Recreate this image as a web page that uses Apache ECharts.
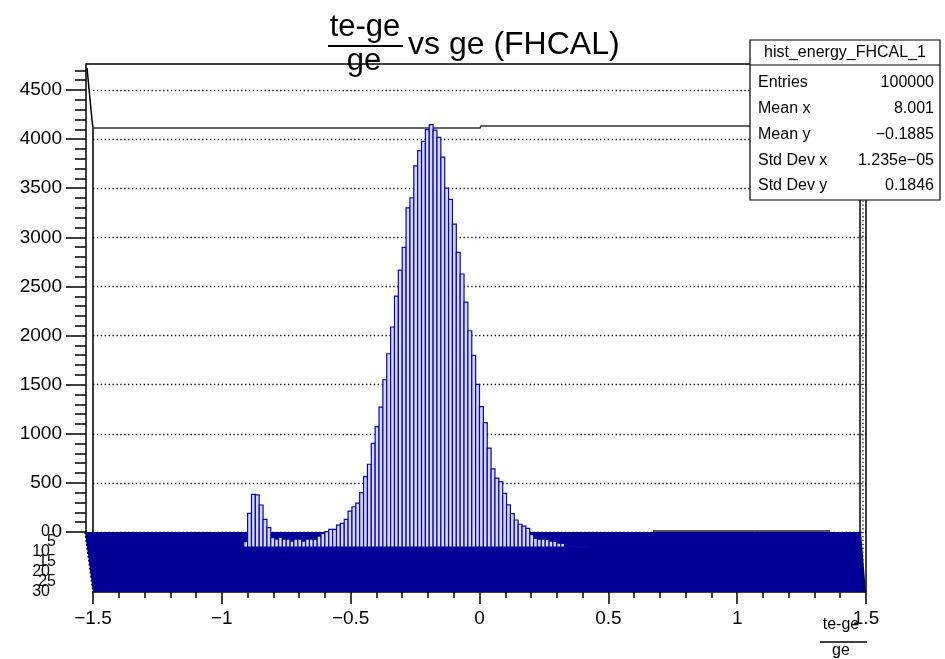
<!DOCTYPE html>
<html><head><meta charset="utf-8">
<script src="https://cdn.jsdelivr.net/npm/echarts/dist/echarts.min.js"></script>
<style>html,body{margin:0;padding:0;background:#fff}#c{width:945px;height:659px}</style>
</head><body><div id="c"></div>
<script>
// ---- data (histogram of (te-ge)/ge, bin width 0.015) ----
const binLow = [-0.915,-0.900,-0.885,-0.870,-0.855,-0.840,-0.825,-0.810,-0.795,-0.780,-0.765,-0.750,-0.735,-0.720,-0.705,-0.690,-0.675,-0.660,-0.645,-0.630,-0.615,-0.600,-0.585,-0.570,-0.555,-0.540,-0.525,-0.510,-0.495,-0.480,-0.465,-0.450,-0.435,-0.420,-0.405,-0.390,-0.375,-0.360,-0.345,-0.330,-0.315,-0.300,-0.285,-0.270,-0.255,-0.240,-0.225,-0.210,-0.195,-0.180,-0.165,-0.150,-0.135,-0.120,-0.105,-0.090,-0.075,-0.060,-0.045,-0.030,-0.015,0.000,0.015,0.030,0.045,0.060,0.075,0.090,0.105,0.120,0.135,0.150,0.165,0.180,0.195,0.210,0.225,0.240,0.255,0.270,0.285,0.300,0.315,0.330,0.345,0.360,0.375,0.390,0.405];
const counts = [54,343,536,530,428,282,197,95,81,99,81,81,61,81,81,61,81,81,81,112,139,156,180,180,224,241,282,366,410,448,553,716,843,1056,1225,1425,1703,1968,2240,2555,2820,3051,3454,3556,3880,4035,4130,4250,4300,4245,4171,3970,3655,3540,3287,3000,2780,2494,2202,1951,1656,1430,1266,1008,796,702,665,547,430,340,275,232,212,190,125,90,81,80,78,61,58,40,36,12,10,9,8,8,6];
const BIN_W = 0.015;
const xRange = [-1.5, 1.5];
const yMax = 4765;
const yMajorTicks = [0,500,1000,1500,2000,2500,3000,3500,4000,4500];
const yMinorTicks = [100,200,300,400,600,700,800,900,1100,1200,1300,1400,1600,1700,1800,1900,2100,2200,2300,2400,2600,2700,2800,2900,3100,3200,3300,3400,3600,3700,3800,3900,4100,4200,4300,4400,4600,4700];
const depthRange = [0, 30];
const depthTicksA = [0,10,20,30];
const depthTicksB = [5,15,25];
const statLabels = ['Entries','Mean x','Mean y','Std Dev x','Std Dev y'];
const statValues = ['100000','8.001','\u22120.1885','1.235e\u221205','0.1846'];
const histName = 'hist_energy_FHCAL_1';

// ---- styling ----
const FONT = '"Liberation Sans", Arial, Helvetica, sans-serif';
const SHIFT = 153;      // lego projection offset (axis units)
const NAVY = '#000096';

const chart = echarts.init(document.getElementById('c'), null, {renderer:'canvas'});

const statRows = statLabels.map((l,i)=>[
  {type:'text', x:758, y:83+i*25.7, z:101, style:{text:l, font:'16px '+FONT, fill:'#000', textAlign:'left', textVerticalAlign:'middle', align:'left', verticalAlign:'middle'}},
  {type:'text', x:934, y:83+i*25.7, z:101, style:{text:statValues[i], font:'16px '+FONT, fill:'#000', textAlign:'right', textVerticalAlign:'middle', align:'right', verticalAlign:'middle'}}
]).flat();

function txt(s, x, y, size, align){
  return {type:'text', x:x, y:y, z:50, style:{text:s, font:size+'px '+FONT, fill:'#000', textAlign:align||'center', textVerticalAlign:'middle', align:align||'center', verticalAlign:'middle'}};
}
function line(pts, w, color, z, dash){
  return {type:'polyline', z:z||20, shape:{points:pts}, style:{stroke:color||'#000', lineWidth:w||1, fill:null, lineDash:dash||null}};
}
function depthAxis(vals, margin){
  return {gridIndex:1, type:'value', min:depthRange[0], max:depthRange[1], inverse:true, offset:7, position:'left',
    axisLine:{show:false, onZero:false}, axisTick:{show:false}, splitLine:{show:false},
    axisLabel:{color:'#000', fontSize:16, fontFamily:FONT, margin:margin, hideOverlap:false,
      showMinLabel:true, showMaxLabel:true, customValues:vals, formatter:v=>String(v)}};
}

const option = {
  animation:false,
  backgroundColor:'#fff',
  grid:[
    {left:93, top:64, width:773, height:468, containLabel:false},
    {left:93, top:532, width:773, height:60, containLabel:false}
  ],
  xAxis:[
    {gridIndex:0, type:'value', min:xRange[0], max:xRange[1], interval:0.5, offset:60,
     axisLine:{show:true, onZero:false, lineStyle:{color:'#000', width:1.5}},
     axisTick:{show:true, length:12, lineStyle:{color:'#000', width:1.5}},
     minorTick:{show:true, splitNumber:5, length:6, lineStyle:{color:'#000', width:1.5}},
     axisLabel:{color:'#000', fontSize:19, fontFamily:FONT, margin:17, hideOverlap:false,
       formatter:v=>String(v).replace('-', '\u2212')},
     splitLine:{show:false}},
    {gridIndex:1, type:'value', min:xRange[0], max:xRange[1], show:false}
  ],
  yAxis:[
    {gridIndex:0, type:'value', min:0, max:yMax, interval:500, offset:7, position:'left',
     axisLine:{show:true, onZero:false, lineStyle:{color:'#000', width:1.5}},
     axisTick:{show:true, length:20, customValues:yMajorTicks, lineStyle:{color:'#000', width:1.5}},
     minorTick:{show:false},
     axisLabel:{color:'#000', fontSize:19, fontFamily:FONT, margin:24, hideOverlap:false, customValues:yMajorTicks,
       formatter:v=>String(v)},
     splitLine:{show:true, lineStyle:{color:'#000', width:1.3, type:[1.3,2.6]}}},
    depthAxis(depthTicksA, 36),
    depthAxis(depthTicksB, 30),
    {gridIndex:0, type:'value', min:0, max:yMax, offset:7, position:'left',
     axisLine:{show:false, onZero:false}, axisLabel:{show:false}, splitLine:{show:false},
     axisTick:{show:true, length:11, customValues:yMinorTicks, lineStyle:{color:'#000', width:1.5}}}
  ],
  series:[
    {type:'custom', name:'floor', xAxisIndex:0, yAxisIndex:0, clip:false, z:2, silent:true,
     data:[[xRange[0], xRange[1]]],
     renderItem:(params, api)=>{
       const tl = api.coord([api.value(0), 0]);
       const tr = api.coord([api.value(1), 0]);
       const by = tl[1] + 60;
       return {type:'group', children:[
         {type:'polygon', shape:{points:[[tl[0]-8,tl[1]],[tr[0]-5,tr[1]],[tr[0],by],[tl[0],by]]}, style:{fill:NAVY, stroke:null}},
         {type:'polyline', shape:{points:[[tl[0]-8,tl[1]],[tl[0],by]]}, style:{stroke:'#000', lineWidth:1.5, lineDash:[2,2], fill:null}},
         {type:'polyline', shape:{points:[[tl[0]+560,tl[1]-1],[tr[0]-36,tr[1]-1]]}, style:{stroke:'#222', lineWidth:1.5, fill:null}}
       ]};
     }},
    {type:'custom', name:'hist', xAxisIndex:0, yAxisIndex:0, clip:false, z:5, silent:true,
     data: binLow.map((b,i)=>[b, counts[i]]),
     renderItem:(params, api)=>{
       const x0 = api.value(0), v = api.value(1);
       const a = api.coord([x0, v - SHIFT]);
       const b = api.coord([x0 + BIN_W, -SHIFT]);
       return {type:'rect', shape:{x:a[0], y:a[1], width:b[0]-a[0], height:b[1]-a[1]},
               style:{fill:'#d6d6f6', stroke:'#0808a8', lineWidth:1.2}};
     }}
  ],
  graphic:[
    // frame & lego box edges
    line([[86,64],[866,64]], 1.5, '#000', 20),
    line([[87,68],[92,120],[93,128],[93,532]], 1.5, '#000', 3),
    line([[93,128],[480,128],[481,126],[860,126]], 1.5, '#333', 3),
    line([[860,64],[860,532]], 1.5, '#000', 20),
    line([[866,64],[866,592]], 1.5, '#000', 20),
    line([[863,64],[863,592]], 1.2, '#000', 20, [1.3,2.6]),
    // title
    txt('te-ge', 365, 27, 31),
    line([[328,46],[403,46]], 2.2, '#000', 50),
    txt('ge', 364, 61, 31),
    txt('vs ge (FHCAL)', 408, 45, 32, 'left'),
    // x-axis title
    txt('te-ge', 841, 625, 16),
    line([[820,642],[867,642]], 1.5, '#000', 50),
    txt('ge', 841, 651, 16),
    // stats box
    {type:'rect', z:100, shape:{x:750, y:40, width:190, height:160}, style:{fill:'#fff', stroke:'#000', lineWidth:1.2}},
    line([[750,65],[940,65]], 1.2, '#000', 101),
    {type:'text', x:845, y:52.5, z:101, style:{text:histName, font:'16px '+FONT, fill:'#000', textAlign:'center', textVerticalAlign:'middle', align:'center', verticalAlign:'middle'}},
    ...statRows
  ]
};
chart.setOption(option);
</script>
</body></html>
